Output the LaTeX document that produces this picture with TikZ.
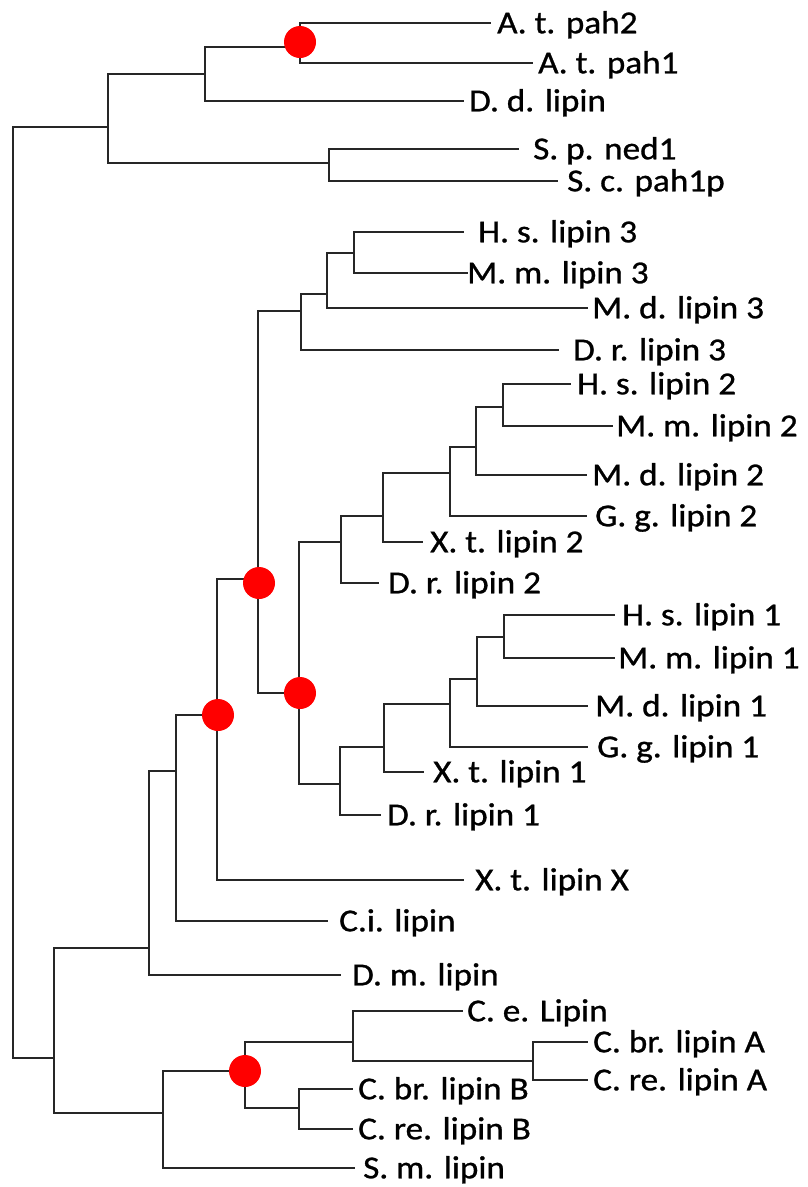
\documentclass[tikz,border=0pt]{standalone}
\usepackage{fontspec}
\setmainfont{Carlito}[FakeStretch=1.1,FakeBold=0.9]
\begin{document}
\begin{tikzpicture}[x=1pt,y=-1pt,
  br/.style={draw=black!85,line width=1.5pt,line cap=rect},
  leaf/.style={anchor=base west,inner sep=0pt,font=\fontsize{32}{38}\selectfont,text=black},
  dot/.style={circle,fill=red,inner sep=0pt,minimum size=32pt}]
\useasboundingbox (0,0) rectangle (807,1187);
% internal nodes
\coordinate (R) at (13,592);
\coordinate (T) at (108,127);
\coordinate (A) at (205,74);
\coordinate (AT) at (300,47);
\coordinate (SP) at (329,163);
\coordinate (B) at (54,1058);
\coordinate (C) at (149,948);
\coordinate (D) at (176,771);
\coordinate (F) at (217,715);
\coordinate (G) at (258,579);
\coordinate (L3) at (301,311);
\coordinate (L3a) at (327,294);
\coordinate (L3b) at (354,253);
\coordinate (H) at (299,693);
\coordinate (L2) at (341,542);
\coordinate (L2a) at (383,516);
\coordinate (L2b) at (450,473);
\coordinate (L2c) at (476,447);
\coordinate (L2d) at (503,407);
\coordinate (L1) at (340,784);
\coordinate (L1a) at (384,747);
\coordinate (L1b) at (450,704);
\coordinate (L1c) at (477,679);
\coordinate (L1d) at (504,637);
\coordinate (E) at (163,1113);
\coordinate (K) at (245,1071);
\coordinate (KA) at (353,1042);
\coordinate (KAA) at (533,1061);
\coordinate (KB) at (299,1108);
% leaf line ends
\coordinate (pah2e) at (490,23);
\coordinate (pah1e) at (532,63);
\coordinate (dde) at (463,101);
\coordinate (ned1e) at (518,149);
\coordinate (pah1pe) at (557,181);
\coordinate (hs3e) at (463,232);
\coordinate (mm3e) at (467,273);
\coordinate (md3e) at (587,308);
\coordinate (dr3e) at (558,350);
\coordinate (hs2e) at (570,384);
\coordinate (mm2e) at (612,426);
\coordinate (md2e) at (586,475);
\coordinate (gg2e) at (586,516);
\coordinate (xt2e) at (422,542);
\coordinate (dr2e) at (378,583);
\coordinate (hs1e) at (614,615);
\coordinate (mm1e) at (614,658);
\coordinate (md1e) at (587,706);
\coordinate (gg1e) at (587,747);
\coordinate (xt1e) at (423,772);
\coordinate (dr1e) at (380,815);
\coordinate (xtxe) at (463,880);
\coordinate (cie) at (327,921);
\coordinate (dme) at (340,975);
\coordinate (cee) at (462,1011);
\coordinate (cbrae) at (587,1042);
\coordinate (creae) at (587,1080);
\coordinate (cbrbe) at (352,1089);
\coordinate (crebe) at (352,1129);
\coordinate (sme) at (354,1168);
% labels
\node[leaf] (pah2) at (497,33.3) {A. t. pah2};
\node[leaf] (pah1) at (538,73.3) {A. t. pah1};
\node[leaf] (dd) at (469,111.3) {D. d. lipin};
\node[leaf] (ned1) at (533,159.3) {S. p. ned1};
\node[leaf] (pah1p) at (567,191.3) {S. c. pah1p};
\node[leaf] (hs3) at (478,242.3) {H. s. lipin 3};
\node[leaf] (mm3) at (467,283.3) {M. m. lipin 3};
\node[leaf] (md3) at (592,318.3) {M. d. lipin 3};
\node[leaf] (dr3) at (573,360.3) {D. r. lipin 3};
\node[leaf] (hs2) at (577,394.3) {H. s. lipin 2};
\node[leaf] (mm2) at (616,436.3) {M. m. lipin 2};
\node[leaf] (md2) at (592,485.3) {M. d. lipin 2};
\node[leaf] (gg2) at (595,526.3) {G. g. lipin 2};
\node[leaf] (xt2) at (430,552.3) {X. t. lipin 2};
\node[leaf] (dr2) at (388,593.3) {D. r. lipin 2};
\node[leaf] (hs1) at (622,625.3) {H. s. lipin 1};
\node[leaf] (mm1) at (618,668.3) {M. m. lipin 1};
\node[leaf] (md1) at (595,716.3) {M. d. lipin 1};
\node[leaf] (gg1) at (597,757.3) {G. g. lipin 1};
\node[leaf] (xt1) at (433,782.3) {X. t. lipin 1};
\node[leaf] (dr1) at (387,825.3) {D. r. lipin 1};
\node[leaf] (xtx) at (475,890.3) {X. t. lipin X};
\node[leaf] (ci) at (339,931.3) {C.i. lipin};
\node[leaf] (dm) at (352,985.3) {D. m. lipin};
\node[leaf] (ce) at (467,1021.3) {C. e. Lipin};
\node[leaf] (cbra) at (593,1052.3) {C. br. lipin A};
\node[leaf] (crea) at (593,1090.3) {C. re. lipin A};
\node[leaf] (cbrb) at (358,1099.3) {C. br. lipin B};
\node[leaf] (creb) at (358,1139.3) {C. re. lipin B};
\node[leaf] (sm) at (363,1178.3) {S. m. lipin};
% branches
\draw[br] (R) |- (T);
\draw[br] (R) |- (B);
\draw[br] (T) |- (A);
\draw[br] (T) |- (SP);
\draw[br] (A) |- (AT);
\draw[br] (A) |- (dde);
\draw[br] (AT) |- (pah2e);
\draw[br] (AT) |- (pah1e);
\draw[br] (SP) |- (ned1e);
\draw[br] (SP) |- (pah1pe);
\draw[br] (B) |- (C);
\draw[br] (B) |- (E);
\draw[br] (C) |- (D);
\draw[br] (C) |- (dme);
\draw[br] (D) |- (F);
\draw[br] (D) |- (cie);
\draw[br] (F) |- (G);
\draw[br] (F) |- (xtxe);
\draw[br] (G) |- (L3);
\draw[br] (G) |- (H);
\draw[br] (L3) |- (L3a);
\draw[br] (L3) |- (dr3e);
\draw[br] (L3a) |- (L3b);
\draw[br] (L3a) |- (md3e);
\draw[br] (L3b) |- (hs3e);
\draw[br] (L3b) |- (mm3e);
\draw[br] (H) |- (L2);
\draw[br] (H) |- (L1);
\draw[br] (L2) |- (L2a);
\draw[br] (L2) |- (dr2e);
\draw[br] (L2a) |- (L2b);
\draw[br] (L2a) |- (xt2e);
\draw[br] (L2b) |- (L2c);
\draw[br] (L2b) |- (gg2e);
\draw[br] (L2c) |- (L2d);
\draw[br] (L2c) |- (md2e);
\draw[br] (L2d) |- (hs2e);
\draw[br] (L2d) |- (mm2e);
\draw[br] (L1) |- (L1a);
\draw[br] (L1) |- (dr1e);
\draw[br] (L1a) |- (L1b);
\draw[br] (L1a) |- (xt1e);
\draw[br] (L1b) |- (L1c);
\draw[br] (L1b) |- (gg1e);
\draw[br] (L1c) |- (L1d);
\draw[br] (L1c) |- (md1e);
\draw[br] (L1d) |- (hs1e);
\draw[br] (L1d) |- (mm1e);
\draw[br] (E) |- (K);
\draw[br] (E) |- (sme);
\draw[br] (K) |- (KA);
\draw[br] (K) |- (KB);
\draw[br] (KA) |- (cee);
\draw[br] (KA) |- (KAA);
\draw[br] (KAA) |- (cbrae);
\draw[br] (KAA) |- (creae);
\draw[br] (KB) |- (cbrbe);
\draw[br] (KB) |- (crebe);
% markers
\node[dot] (d1) at (300,42) {};
\node[dot] (d2) at (259,583) {};
\node[dot] (d3) at (218,715) {};
\node[dot] (d4) at (300,693) {};
\node[dot] (d5) at (245,1071) {};
\end{tikzpicture}
\end{document}
